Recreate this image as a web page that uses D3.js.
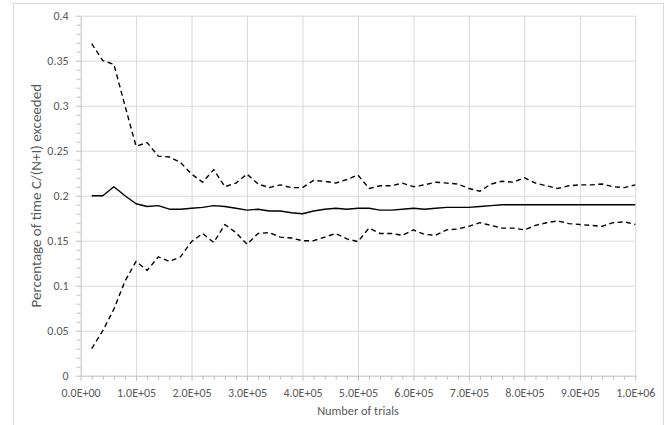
<!DOCTYPE html>
<html>
<head>
<meta charset="utf-8">
<script src="https://cdn.jsdelivr.net/npm/d3@7"></script>
<style>
  html, body { margin: 0; padding: 0; background: #fff; }
  svg { display: block; }
  text { font-family: Calibri, Carlito, Lato, "Open Sans", sans-serif; fill: #595959; }
</style>
</head>
<body>
<svg id="chart" width="672" height="425"></svg>
<script>
// ---- data ----
const trials = [20000, 40000, 60000, 80000, 100000, 120000, 140000, 160000, 180000, 200000,
  220000, 240000, 260000, 280000, 300000, 320000, 340000, 360000, 380000, 400000,
  420000, 440000, 460000, 480000, 500000, 520000, 540000, 560000, 580000, 600000,
  620000, 640000, 660000, 680000, 700000, 720000, 740000, 760000, 780000, 800000,
  820000, 840000, 860000, 880000, 900000, 920000, 940000, 960000, 980000, 1000000];
const upperBound = [0.369, 0.350, 0.346, 0.300, 0.255, 0.259, 0.244, 0.243, 0.237, 0.224,
  0.215, 0.229, 0.210, 0.214, 0.224, 0.213, 0.209, 0.212, 0.209, 0.209,
  0.217, 0.216, 0.214, 0.218, 0.223, 0.208, 0.211, 0.211, 0.214, 0.210,
  0.212, 0.215, 0.214, 0.213, 0.208, 0.205, 0.213, 0.216, 0.215, 0.220,
  0.214, 0.211, 0.208, 0.211, 0.212, 0.212, 0.213, 0.210, 0.209, 0.212];
const meanValue = [0.200, 0.200, 0.210, 0.200, 0.191, 0.188, 0.189, 0.185, 0.185, 0.186,
  0.187, 0.189, 0.188, 0.186, 0.184, 0.185, 0.183, 0.183, 0.181, 0.180,
  0.183, 0.185, 0.186, 0.185, 0.186, 0.186, 0.184, 0.184, 0.185, 0.186,
  0.185, 0.186, 0.187, 0.187, 0.187, 0.188, 0.189, 0.190, 0.190, 0.190,
  0.190, 0.190, 0.190, 0.190, 0.190, 0.190, 0.190, 0.190, 0.190, 0.190];
const lowerBound = [0.030, 0.050, 0.074, 0.105, 0.127, 0.117, 0.132, 0.127, 0.132, 0.149,
  0.158, 0.148, 0.168, 0.159, 0.146, 0.158, 0.159, 0.154, 0.153, 0.150,
  0.150, 0.154, 0.158, 0.152, 0.149, 0.164, 0.158, 0.158, 0.156, 0.162,
  0.157, 0.156, 0.162, 0.163, 0.166, 0.170, 0.167, 0.164, 0.164, 0.162,
  0.167, 0.170, 0.172, 0.169, 0.168, 0.167, 0.166, 0.170, 0.171, 0.168];

const xTickValues = [0, 100000, 200000, 300000, 400000, 500000, 600000, 700000, 800000, 900000, 1000000];
const xTickLabels = ["0.0E+00", "1.0E+05", "2.0E+05", "3.0E+05", "4.0E+05", "5.0E+05",
  "6.0E+05", "7.0E+05", "8.0E+05", "9.0E+05", "1.0E+06"];
const yTickValues = [0, 0.05, 0.1, 0.15, 0.2, 0.25, 0.3, 0.35, 0.4];
const yTickLabels = ["0", "0.05", "0.1", "0.15", "0.2", "0.25", "0.3", "0.35", "0.4"];
const xMinorTicks = [20000, 40000, 60000, 80000, 120000, 140000, 160000, 180000, 220000, 240000, 260000, 280000,
  320000, 340000, 360000, 380000, 420000, 440000, 460000, 480000, 520000, 540000, 560000, 580000,
  620000, 640000, 660000, 680000, 720000, 740000, 760000, 780000, 820000, 840000, 860000, 880000,
  920000, 940000, 960000, 980000];
const yMinorTicks = [0.01, 0.02, 0.03, 0.04, 0.06, 0.07, 0.08, 0.09, 0.11, 0.12, 0.13, 0.14,
  0.16, 0.17, 0.18, 0.19, 0.21, 0.22, 0.23, 0.24, 0.26, 0.27, 0.28, 0.29,
  0.31, 0.32, 0.33, 0.34, 0.36, 0.37, 0.38, 0.39];
const xTitle = "Number of trials";
const yTitle = "Percentage of time C/(N+I) exceeded";

// ---- layout ----
const svg = d3.select("#chart");
const L = 80.6, R = 635.3, T = 15.7, B = 375.7;
const x = d3.scaleLinear().domain([0, 1000000]).range([L, R]);
const y = d3.scaleLinear().domain([0, 0.4]).range([B, T]);

// chart frame
svg.append("rect")
  .attr("x", 13.5).attr("y", 3.5)
  .attr("width", 650).attr("height", 430)
  .attr("fill", "#fff").attr("stroke", "#d9d9d9").attr("stroke-width", 1);

// gridlines
const gx = svg.append("g").attr("transform", `translate(0,${B})`)
  .call(d3.axisBottom(x).tickValues(xTickValues.slice(1)).tickSize(-(B - T)).tickFormat(""));
gx.select(".domain").remove();
gx.selectAll("line").attr("stroke", "#d9d9d9").attr("stroke-width", 1);

const gy = svg.append("g").attr("transform", `translate(${L},0)`)
  .call(d3.axisLeft(y).tickValues(yTickValues.slice(1)).tickSize(-(R - L)).tickFormat(""));
gy.select(".domain").remove();
gy.selectAll("line").attr("stroke", "#d9d9d9").attr("stroke-width", 1);

// minor ticks
const mx = svg.append("g").attr("transform", `translate(0,${B})`)
  .call(d3.axisBottom(x).tickValues(xMinorTicks).tickSize(4).tickFormat(""));
mx.select(".domain").remove();
mx.selectAll("line").attr("stroke", "#bfbfbf");
const my = svg.append("g").attr("transform", `translate(${L},0)`)
  .call(d3.axisLeft(y).tickValues(yMinorTicks).tickSize(4).tickFormat(""));
my.select(".domain").remove();
my.selectAll("line").attr("stroke", "#bfbfbf");

// main axes
const ax = svg.append("g").attr("transform", `translate(0,${B})`)
  .call(d3.axisBottom(x).tickValues(xTickValues).tickSize(5).tickSizeOuter(0).tickPadding(8)
    .tickFormat((d, i) => xTickLabels[i]));
ax.select(".domain").attr("stroke", "#bfbfbf");
ax.selectAll("line").attr("stroke", "#bfbfbf");
ax.selectAll("text").style("font-size", "12px").attr("fill", "#595959");

const ay = svg.append("g").attr("transform", `translate(${L},0)`)
  .call(d3.axisLeft(y).tickValues(yTickValues).tickSize(5).tickSizeOuter(0).tickPadding(7)
    .tickFormat((d, i) => yTickLabels[i]));
ay.select(".domain").attr("stroke", "#bfbfbf");
ay.selectAll("line").attr("stroke", "#bfbfbf");
ay.selectAll("text").style("font-size", "12px").attr("fill", "#595959");

// lines
const line = (vals) => d3.line()
  .x((d, i) => x(trials[i]))
  .y(d => y(d))(vals);

svg.append("path").attr("d", line(upperBound))
  .attr("fill", "none").attr("stroke", "#000").attr("stroke-width", 1.4)
  .attr("stroke-dasharray", "5,3.5").attr("stroke-linejoin", "round");
svg.append("path").attr("d", line(lowerBound))
  .attr("fill", "none").attr("stroke", "#000").attr("stroke-width", 1.4)
  .attr("stroke-dasharray", "5,3.5").attr("stroke-linejoin", "round");
svg.append("path").attr("d", line(meanValue))
  .attr("fill", "none").attr("stroke", "#000").attr("stroke-width", 1.4)
  .attr("stroke-linejoin", "round");

// titles
svg.append("text")
  .attr("x", (L + R) / 2).attr("y", 415)
  .attr("text-anchor", "middle")
  .style("font-size", "12.3px")
  .text(xTitle);
svg.append("text")
  .attr("transform", `translate(41,${(T + B) / 2}) rotate(-90)`)
  .attr("text-anchor", "middle")
  .style("font-size", "15px")
  .text(yTitle);
</script>
</body>
</html>
